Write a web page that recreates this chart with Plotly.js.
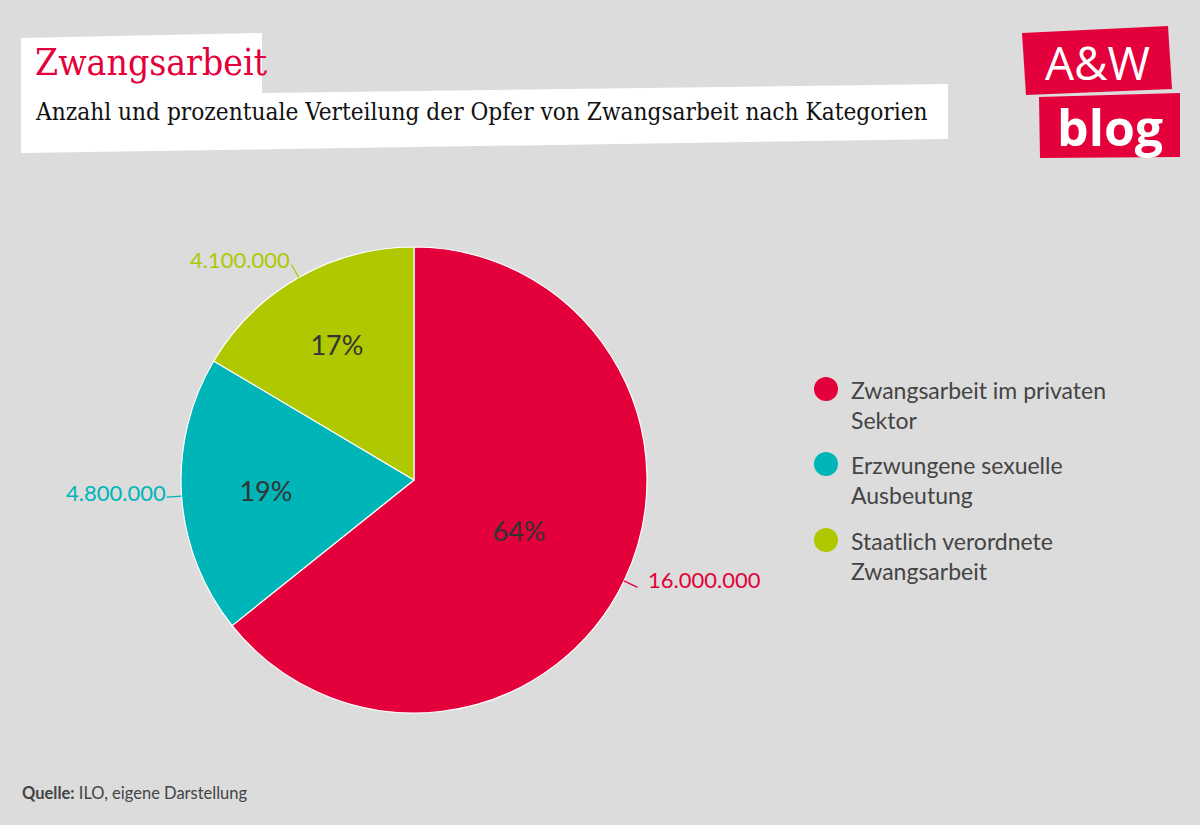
<!DOCTYPE html>
<html>
<head>
<meta charset="utf-8">
<script src="https://cdn.plot.ly/plotly-3.0.1.min.js"></script>
<style>
  html, body { margin: 0; padding: 0; background: #dcdcdc; }
  #chart { width: 1200px; height: 825px; }
</style>
</head>
<body>
<div id="chart"></div>
<script>
// ---- data ----
const categories = [
  "Zwangsarbeit im privaten Sektor",
  "Erzwungene sexuelle Ausbeutung",
  "Staatlich verordnete Zwangsarbeit"
];
const legendLabels = [
  "Zwangsarbeit im privaten<br>Sektor",
  "Erzwungene sexuelle<br>Ausbeutung",
  "Staatlich verordnete<br>Zwangsarbeit"
];
const victims = [16000000, 4800000, 4100000];
const percentLabels = ["64%", "19%", "17%"];
const colors = ["#e4003a", "#00b5b8", "#afc800"];

// ---- helpers (pixel -> paper) ----
const W = 1200, H = 825;
const X = x => x / W;
const Y = y => 1 - y / H;
const fmt = v => String(v).replace(/\B(?=(\d{3})+(?!\d))/g, ".");

// pie geometry
const cx = 414, cy = 480, r = 233;

const shapes = [];
const annotations = [];

// Title boxes
shapes.push({
  type: "path", xref: "paper", yref: "paper", layer: "below",
  path: `M ${X(21)} ${Y(38)} L ${X(262)} ${Y(33)} L ${X(262)} ${Y(93)} L ${X(948)} ${Y(84)} L ${X(948)} ${Y(139)} L ${X(21)} ${Y(153)} Z`,
  fillcolor: "#ffffff", line: { width: 0 }
});
annotations.push({
  xref: "paper", yref: "paper", x: X(33), y: Y(62), xanchor: "left", yanchor: "middle",
  text: "Zwangsarbeit", showarrow: false,
  font: { family: "DejaVu Serif Condensed, DejaVu Serif, serif", size: 37, color: "#e4003a" }
});
annotations.push({
  xref: "paper", yref: "paper", x: X(33), y: Y(112), xanchor: "left", yanchor: "middle",
  text: "Anzahl und prozentuale Verteilung der Opfer von Zwangsarbeit nach Kategorien", showarrow: false,
  font: { family: "DejaVu Serif Condensed, DejaVu Serif, serif", size: 24.2, color: "#111111" }
});

// Logo
shapes.push({
  type: "path", xref: "paper", yref: "paper",
  path: `M ${X(1022)} ${Y(33)} L ${X(1168)} ${Y(26)} L ${X(1172)} ${Y(89)} L ${X(1026)} ${Y(95)} Z`,
  fillcolor: "#e4003a", line: { width: 0 }
});
shapes.push({
  type: "path", xref: "paper", yref: "paper",
  path: `M ${X(1039)} ${Y(97)} L ${X(1180)} ${Y(93)} L ${X(1180)} ${Y(157)} L ${X(1040)} ${Y(158)} Z`,
  fillcolor: "#e4003a", line: { width: 0 }
});
annotations.push({
  xref: "paper", yref: "paper", x: X(1097), y: Y(62), xanchor: "center", yanchor: "middle",
  text: "A&amp;W", showarrow: false,
  font: { family: "Open Sans, sans-serif", size: 46, color: "#ffffff" }
});
annotations.push({
  xref: "paper", yref: "paper", x: X(1110), y: Y(127), xanchor: "center", yanchor: "middle",
  text: "<b>blog</b>", showarrow: false,
  font: { family: "Open Sans, sans-serif", size: 50, color: "#ffffff" }
});

// Outside value labels with connectors, derived from the data
const total = victims.reduce((a, b) => a + b, 0);
let cum = 0;
victims.forEach((v, i) => {
  const mid = (cum + v / 2) / total * 2 * Math.PI;
  cum += v;
  const dx = Math.sin(mid), dy = -Math.cos(mid);
  const px = cx + r * dx, py = cy + r * dy;
  const qx = px + 15 * dx, qy = py + 15 * dy;
  shapes.push({
    type: "line", xref: "paper", yref: "paper",
    x0: X(px), y0: Y(py), x1: X(qx), y1: Y(qy),
    line: { color: colors[i], width: 1.3 }
  });
  annotations.push({
    xref: "paper", yref: "paper", x: X(qx), y: Y(qy),
    xanchor: dx < 0 ? "right" : "left", yanchor: "middle",
    xshift: dx < 0 ? 1 : 8, yshift: dx < 0 ? 5 : 8,
    text: fmt(v), showarrow: false,
    font: { family: "Lato, sans-serif", size: 22, color: colors[i] }
  });
});

// Legend (circles + labels)
const legendY = [405, 480, 556];
legendLabels.forEach((lab, i) => {
  const ly = legendY[i] - 16;
  shapes.push({
    type: "circle", xref: "paper", yref: "paper",
    x0: X(814), x1: X(838), y0: Y(ly - 12), y1: Y(ly + 12),
    fillcolor: colors[i], line: { width: 0 }
  });
  annotations.push({
    xref: "paper", yref: "paper", x: X(849), y: Y(legendY[i]),
    xanchor: "left", yanchor: "middle", align: "left",
    text: lab, showarrow: false,
    font: { family: "Lato, sans-serif", size: 23, color: "#444444" }
  });
});

// Source
annotations.push({
  xref: "paper", yref: "paper", x: X(20), y: Y(793), xanchor: "left", yanchor: "middle",
  text: "<b>Quelle:</b> ILO, eigene Darstellung", showarrow: false,
  font: { family: "Lato, sans-serif", size: 16.5, color: "#444444" }
});

const trace = {
  type: "pie",
  labels: categories,
  values: victims,
  text: percentLabels,
  textinfo: "text",
  textposition: "inside",
  insidetextorientation: "horizontal",
  textfont: { family: "Lato, sans-serif", size: 27, color: "#333333" },
  marker: { colors: colors, line: { color: "#ffffff", width: 1.2 } },
  sort: false,
  direction: "clockwise",
  rotation: 0,
  hoverinfo: "none",
  showlegend: false,
  domain: { x: [X(cx - r), X(cx + r)], y: [Y(cy + r), Y(cy - r)] }
};

const layout = {
  width: W, height: H,
  margin: { l: 0, r: 0, t: 0, b: 0 },
  paper_bgcolor: "#dcdcdc",
  plot_bgcolor: "#dcdcdc",
  showlegend: false,
  shapes: shapes,
  annotations: annotations
};

Plotly.newPlot("chart", [trace], layout, { displayModeBar: false, staticPlot: true });
</script>
</body>
</html>
